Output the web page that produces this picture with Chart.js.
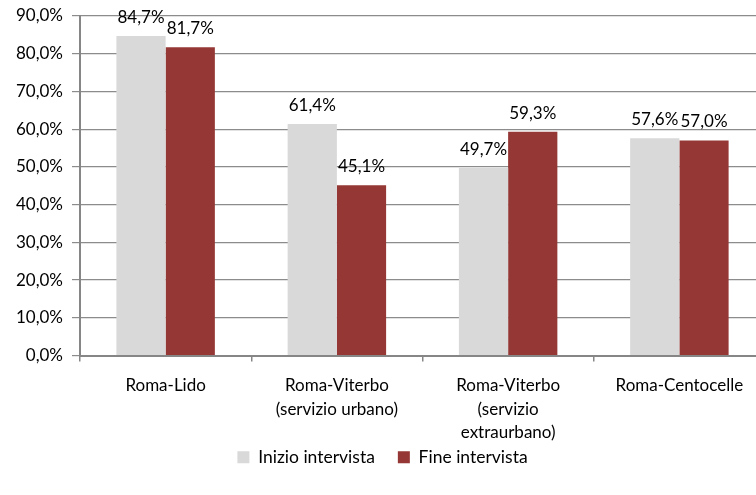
<!DOCTYPE html>
<html>
<head>
<meta charset="utf-8">
<script src="https://cdn.jsdelivr.net/npm/chart.js@4"></script>
<style>
  html, body { margin: 0; padding: 0; background: #fff; overflow: hidden; }
  #wrap { width: 765px; height: 495px; }
</style>
</head>
<body>
<div id="wrap"><canvas id="c"></canvas></div>
<script>
const categories = [
  ["Roma-Lido"],
  ["Roma-Viterbo", "(servizio urbano)"],
  ["Roma-Viterbo", "(servizio", "extraurbano)"],
  ["Roma-Centocelle"]
];
const seriesNames = ["Inizio intervista", "Fine intervista"];
const inizio = [84.7, 61.4, 49.7, 57.6];
const fine = [81.7, 45.1, 59.3, 57.0];
const yTicks = [0, 10, 20, 30, 40, 50, 60, 70, 80, 90];

const FONT = "Lato, 'Liberation Sans', sans-serif";
const SIZE = 17;
const fmt = (v, d) => v.toFixed(d).replace('.', ',') + '%';

// value labels above each bar
const barValues = {
  id: 'barValues',
  afterDatasetsDraw(chart) {
    const ctx = chart.ctx;
    ctx.save();
    ctx.font = SIZE + "px " + FONT;
    ctx.fillStyle = '#000';
    ctx.textAlign = 'center';
    ctx.textBaseline = 'alphabetic';
    chart.data.datasets.forEach((ds, i) => {
      chart.getDatasetMeta(i).data.forEach((el, j) => {
        ctx.fillText(fmt(ds.data[j], 1), el.x, el.y - 13);
      });
    });
    ctx.restore();
  }
};

new Chart(document.getElementById('c'), {
  type: 'bar',
  data: {
    labels: categories,
    datasets: [
      { label: seriesNames[0], data: inizio, backgroundColor: '#d9d9d9' },
      { label: seriesNames[1], data: fine, backgroundColor: '#953735' }
    ]
  },
  options: {
    responsive: true,
    maintainAspectRatio: false,
    animation: false,
    layout: { padding: { top: 16, left: 0, right: 0, bottom: 19 } },
    datasets: { bar: { categoryPercentage: 0.575, barPercentage: 1.0 } },
    plugins: {
      legend: {
        position: 'bottom',
        labels: {
          font: { family: FONT, size: 17.5 },
          color: '#000',
          boxWidth: 12,
          boxHeight: 12,
          padding: 23
        }
      },
      tooltip: { enabled: false }
    },
    scales: {
      x: {
        grid: {
          offset: true,
          drawOnChartArea: false,
          color: '#868686',
          tickLength: 6,
          lineWidth: 1.5
        },
        border: { color: '#868686', width: 2 },
        ticks: {
          font: { family: FONT, size: SIZE, lineHeight: 1.4 },
          color: '#000',
          padding: 12,
          maxRotation: 0,
          autoSkip: false
        },
        afterFit(scale) {
          scale.height = 70;
          // let the three-line label run past the axis box instead of being clipped
          scale._computeLabelArea = () => null;
        }
      },
      y: {
        min: 0,
        max: 90,
        afterBuildTicks(scale) { scale.ticks = yTicks.map(v => ({ value: v })); },
        grid: { color: '#8c8c8c', tickLength: 8, lineWidth: 1.2 },
        border: { color: '#868686', width: 2 },
        ticks: {
          font: { family: FONT, size: SIZE },
          color: '#000',
          padding: 9,
          callback: v => fmt(v, 1)
        },
        afterFit(scale) {
          scale.width = 80;
          scale.paddingTop = 0;
          scale.paddingBottom = 0;
        }
      }
    }
  },
  plugins: [barValues]
});
</script>
</body>
</html>
